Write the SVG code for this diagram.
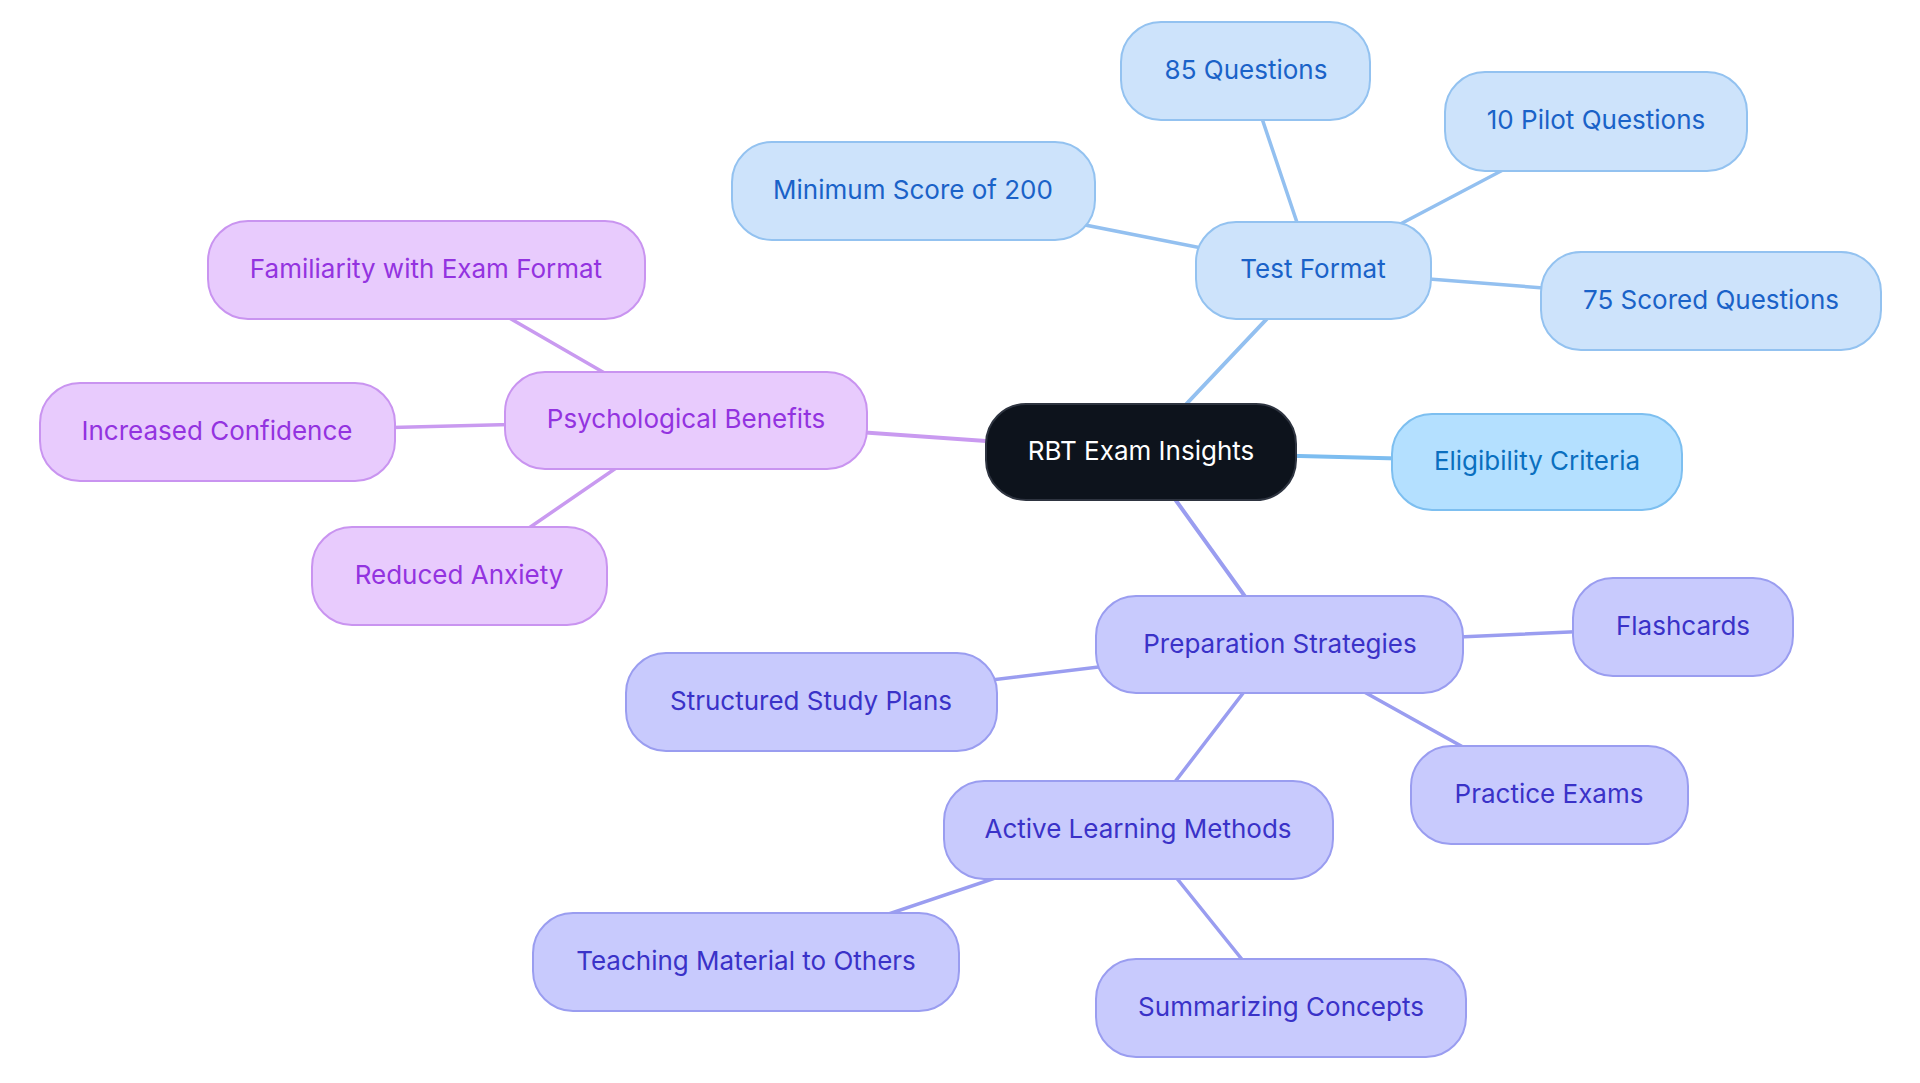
<svg xmlns="http://www.w3.org/2000/svg" width="1920" height="1083" viewBox="0 0 1920 1083">
<style>
text{font-family:Inter,"Noto Sans",sans-serif;font-size:26px;text-anchor:middle;dominant-baseline:central}
.n rect{stroke-width:2}
.root rect{fill:#0d131c;stroke:#2e3440}
.root text{fill:#ffffff}
.blue rect{fill:#cde3fb;stroke:#93c2f0}
.blue text{fill:#1a62c8}
.sky rect{fill:#b4e0ff;stroke:#7dbff0}
.sky text{fill:#0a6fbf}
.pur rect{fill:#e8cbfd;stroke:#c994f0}
.pur text{fill:#9333e0}
.ind rect{fill:#c8cafd;stroke:#9a9df0}
.ind text{fill:#3a32c8}
#edges line{stroke-linecap:round}
.eb{stroke:#93c0f0}
.es{stroke:#7dbdf0}
.ep{stroke:#c99af0}
.ei{stroke:#9a9df0}
.l1{stroke-width:4}
.l2{stroke-width:3.5}
</style>
<rect width="1920" height="1083" fill="#ffffff"/>
<g id="edges">
<line class="es l1" x1="1141" y1="452" x2="1537" y2="462"/>
<line class="eb l1" x1="1141" y1="452" x2="1313" y2="270"/>
<line class="ep l1" x1="1141" y1="452" x2="686" y2="420"/>
<line class="ei l1" x1="1141" y1="452" x2="1280" y2="645"/>
<line class="eb l2" x1="1313" y1="270" x2="1246" y2="71"/>
<line class="eb l2" x1="1313" y1="270" x2="1596" y2="121"/>
<line class="eb l2" x1="1313" y1="270" x2="913" y2="191"/>
<line class="eb l2" x1="1313" y1="270" x2="1711" y2="301"/>
<line class="ep l2" x1="686" y1="420" x2="426" y2="270"/>
<line class="ep l2" x1="686" y1="420" x2="217" y2="432"/>
<line class="ep l2" x1="686" y1="420" x2="459" y2="576"/>
<line class="ei l2" x1="1280" y1="645" x2="1683" y2="627"/>
<line class="ei l2" x1="1280" y1="645" x2="811" y2="702"/>
<line class="ei l2" x1="1280" y1="645" x2="1549" y2="795"/>
<line class="ei l2" x1="1280" y1="645" x2="1138" y2="830"/>
<line class="ei l2" x1="1138" y1="830" x2="746" y2="962"/>
<line class="ei l2" x1="1138" y1="830" x2="1281" y2="1008"/>
</g>
<g id="root" class="n root"><rect x="986" y="404" width="310" height="96" rx="40"/><text x="1141" y="450">RBT Exam Insights</text></g>
<g id="eligibility" class="n sky"><rect x="1392" y="414" width="290" height="96" rx="40"/><text x="1537" y="460">Eligibility Criteria</text></g>
<g id="test-format" class="n blue"><rect x="1196" y="222" width="235" height="97" rx="40"/><text x="1313" y="268">Test Format</text></g>
<g id="q85" class="n blue"><rect x="1121" y="22" width="249" height="98" rx="40"/><text x="1246" y="69">85 Questions</text></g>
<g id="pilot" class="n blue"><rect x="1445" y="72" width="302" height="99" rx="40"/><text x="1596" y="119">10 Pilot Questions</text></g>
<g id="minscore" class="n blue"><rect x="732" y="142" width="363" height="98" rx="40"/><text x="913" y="189">Minimum Score of 200</text></g>
<g id="scored" class="n blue"><rect x="1541" y="252" width="340" height="98" rx="40"/><text x="1711" y="299">75 Scored Questions</text></g>
<g id="psych" class="n pur"><rect x="505" y="372" width="362" height="97" rx="40"/><text x="686" y="418">Psychological Benefits</text></g>
<g id="familiarity" class="n pur"><rect x="208" y="221" width="437" height="98" rx="40"/><text x="426" y="268">Familiarity with Exam Format</text></g>
<g id="confidence" class="n pur"><rect x="40" y="383" width="355" height="98" rx="40"/><text x="217" y="430">Increased Confidence</text></g>
<g id="anxiety" class="n pur"><rect x="312" y="527" width="295" height="98" rx="40"/><text x="459" y="574">Reduced Anxiety</text></g>
<g id="prep" class="n ind"><rect x="1096" y="596" width="367" height="97" rx="40"/><text x="1280" y="643">Preparation Strategies</text></g>
<g id="flashcards" class="n ind"><rect x="1573" y="578" width="220" height="98" rx="40"/><text x="1683" y="625">Flashcards</text></g>
<g id="structured" class="n ind"><rect x="626" y="653" width="371" height="98" rx="40"/><text x="811" y="700">Structured Study Plans</text></g>
<g id="practice" class="n ind"><rect x="1411" y="746" width="277" height="98" rx="40"/><text x="1549" y="793">Practice Exams</text></g>
<g id="active" class="n ind"><rect x="944" y="781" width="389" height="98" rx="40"/><text x="1138" y="828">Active Learning Methods</text></g>
<g id="teaching" class="n ind"><rect x="533" y="913" width="426" height="98" rx="40"/><text x="746" y="960">Teaching Material to Others</text></g>
<g id="summarizing" class="n ind"><rect x="1096" y="959" width="370" height="98" rx="40"/><text x="1281" y="1006">Summarizing Concepts</text></g>
</svg>
